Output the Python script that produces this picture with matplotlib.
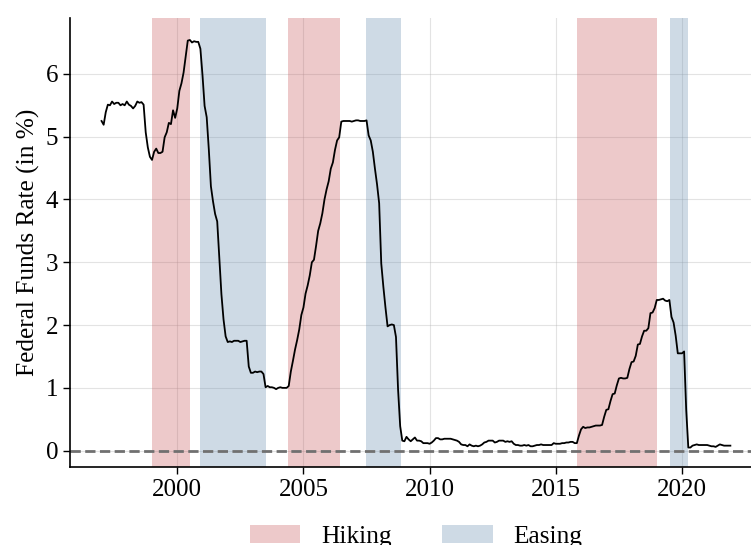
import matplotlib
matplotlib.use("Agg")
import matplotlib.pyplot as plt
from matplotlib.patches import Patch
import numpy as np

plt.rcParams['font.family'] = ['Liberation Serif', 'DejaVu Serif']

# Monthly effective federal funds rate (in %), Jan 1997 - Dec 2021
start_year = 1997
fed_funds_rate = [
    5.25, 5.19, 5.39, 5.51, 5.50, 5.56, 5.52, 5.54, 5.54, 5.50, 5.52, 5.50,  # 1997
    5.56, 5.51, 5.49, 5.45, 5.49, 5.56, 5.54, 5.55, 5.51, 5.07, 4.83, 4.68,  # 1998
    4.63, 4.76, 4.81, 4.74, 4.74, 4.76, 4.99, 5.07, 5.22, 5.20, 5.42, 5.30,  # 1999
    5.45, 5.73, 5.85, 6.02, 6.27, 6.53, 6.54, 6.50, 6.52, 6.51, 6.51, 6.40,  # 2000
    5.98, 5.49, 5.31, 4.80, 4.21, 3.97, 3.77, 3.65, 3.07, 2.49, 2.09, 1.82,  # 2001
    1.73, 1.74, 1.73, 1.75, 1.75, 1.75, 1.73, 1.74, 1.75, 1.75, 1.34, 1.24,  # 2002
    1.24, 1.26, 1.25, 1.26, 1.26, 1.22, 1.01, 1.03, 1.01, 1.01, 1.00, 0.98,  # 2003
    1.00, 1.01, 1.00, 1.00, 1.00, 1.03, 1.26, 1.43, 1.61, 1.76, 1.93, 2.16,  # 2004
    2.28, 2.50, 2.63, 2.79, 3.00, 3.04, 3.26, 3.50, 3.62, 3.78, 4.00, 4.16,  # 2005
    4.29, 4.49, 4.59, 4.79, 4.94, 4.99, 5.24, 5.25, 5.25, 5.25, 5.25, 5.24,  # 2006
    5.25, 5.26, 5.26, 5.25, 5.25, 5.25, 5.26, 5.02, 4.94, 4.76, 4.49, 4.24,  # 2007
    3.94, 2.98, 2.61, 2.28, 1.98, 2.00, 2.01, 2.00, 1.81, 0.97, 0.39, 0.16,  # 2008
    0.15, 0.22, 0.18, 0.15, 0.18, 0.21, 0.16, 0.16, 0.15, 0.12, 0.12, 0.12,  # 2009
    0.11, 0.13, 0.16, 0.20, 0.20, 0.18, 0.18, 0.19, 0.19, 0.19, 0.19, 0.18,  # 2010
    0.17, 0.16, 0.14, 0.10, 0.09, 0.09, 0.07, 0.10, 0.08, 0.07, 0.08, 0.07,  # 2011
    0.08, 0.10, 0.13, 0.14, 0.16, 0.16, 0.16, 0.13, 0.14, 0.16, 0.16, 0.16,  # 2012
    0.14, 0.15, 0.14, 0.15, 0.11, 0.09, 0.09, 0.08, 0.08, 0.09, 0.08, 0.09,  # 2013
    0.07, 0.07, 0.08, 0.09, 0.09, 0.10, 0.09, 0.09, 0.09, 0.09, 0.09, 0.12,  # 2014
    0.11, 0.11, 0.11, 0.12, 0.12, 0.13, 0.13, 0.14, 0.14, 0.12, 0.12, 0.24,  # 2015
    0.34, 0.38, 0.36, 0.37, 0.37, 0.38, 0.39, 0.40, 0.40, 0.40, 0.41, 0.54,  # 2016
    0.65, 0.66, 0.79, 0.90, 0.91, 1.04, 1.15, 1.16, 1.15, 1.15, 1.16, 1.30,  # 2017
    1.41, 1.42, 1.51, 1.69, 1.70, 1.82, 1.91, 1.91, 1.95, 2.19, 2.20, 2.27,  # 2018
    2.40, 2.40, 2.41, 2.42, 2.39, 2.38, 2.40, 2.13, 2.04, 1.83, 1.55, 1.55,  # 2019
    1.55, 1.58, 0.65, 0.05, 0.05, 0.08, 0.09, 0.10, 0.09, 0.09, 0.09, 0.09,  # 2020
    0.09, 0.08, 0.07, 0.07, 0.06, 0.08, 0.10, 0.09, 0.08, 0.08, 0.08, 0.08,  # 2021
]

# Policy periods (decimal years)
hiking_periods = [(1999.0, 2000.49), (2004.38, 2006.46), (2015.83, 2019.0)]
easing_periods = [(2000.91, 2003.5), (2007.47, 2008.88), (2019.53, 2020.24)]

hike_color = '#c44e52'
ease_color = '#5f87ac'
span_alpha = 0.3

dates = start_year + np.arange(len(fed_funds_rate)) / 12.0

fig = plt.figure(figsize=(7.51, 5.45), dpi=100)
ax = fig.add_axes([70 / 751, 78 / 545, (762 - 70) / 751, (467 - 18) / 545])

ax.set_axisbelow(True)
ax.grid(True, color='#b0b0b0', alpha=0.35, linewidth=0.8)

for a, b in hiking_periods:
    ax.axvspan(a, b, color=hike_color, alpha=span_alpha, linewidth=0)
for a, b in easing_periods:
    ax.axvspan(a, b, color=ease_color, alpha=span_alpha, linewidth=0)

ax.plot(dates, fed_funds_rate, color='black', linewidth=1.3, zorder=3)
ax.axhline(0, color='#707070', linestyle='--', linewidth=2, zorder=2)

ax.set_xlim(1995.75, 2023.17)
ax.set_ylim(-0.26, 6.89)
ax.set_xticks([2000, 2005, 2010, 2015, 2020])
ax.set_yticks(range(0, 7))

ax.spines['top'].set_visible(False)
ax.spines['right'].set_visible(False)
ax.spines['left'].set_linewidth(1.2)
ax.spines['bottom'].set_linewidth(1.2)
ax.tick_params(axis='both', labelsize=18, length=5, width=1.0)

ax.set_ylabel('Federal Funds Rate (in %)', fontsize=18.3)

handles = [Patch(facecolor=hike_color, alpha=span_alpha, linewidth=0, label='Hiking'),
           Patch(facecolor=ease_color, alpha=span_alpha, linewidth=0, label='Easing')]
ax.legend(handles=handles, loc='center', bbox_to_anchor=(0.5, -0.155), ncol=2,
          frameon=False, fontsize=18.3, handlelength=2.0, handleheight=0.72,
          handletextpad=0.8, columnspacing=2.0)

fig.savefig('out.png', dpi=100)
